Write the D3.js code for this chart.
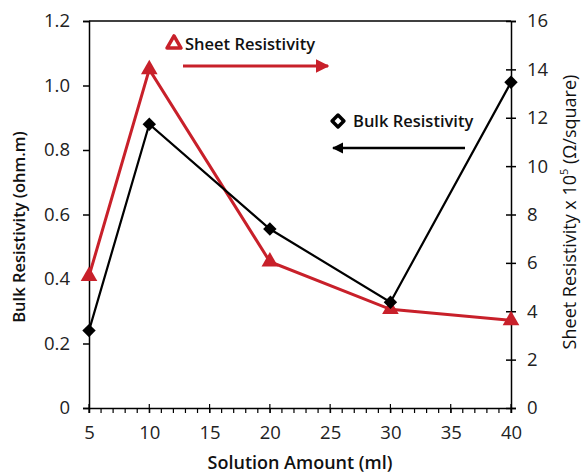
<!DOCTYPE html>
<html><head><meta charset="utf-8">
<script src="https://cdn.jsdelivr.net/npm/d3@7"></script>
<style>body{margin:0;background:#fff}svg{display:block}</style>
</head><body>
<script>
const solution = [5, 10, 20, 30, 40];
const bulkResistivity = [0.24, 0.88, 0.555, 0.328, 1.01];
const sheetResistivity = [5.45, 14.0, 6.05, 4.08, 3.62];
const xTicks = [5, 10, 15, 20, 25, 30, 35, 40];
const leftTicks = [0, 0.2, 0.4, 0.6, 0.8, 1.0, 1.2];
const rightTicks = [0, 2, 4, 6, 8, 10, 12, 14, 16];

const W = 583, H = 476;
const m = {l: 89, r: 72, t: 21, b: 68};
const svg = d3.select("body").append("svg").attr("width", W).attr("height", H);
const x = d3.scaleLinear().domain([5, 40]).range([m.l, W - m.r]);
const yL = d3.scaleLinear().domain([0, 1.2]).range([H - m.b, m.t]);
const yR = d3.scaleLinear().domain([0, 16]).range([H - m.b, m.t]);
const RED = "#c8202a";
const tickFont = "'Open Sans', 'Noto Sans', sans-serif";
const TF = 18.5;

// top border
svg.append("line").attr("x1", x(5)).attr("x2", x(40)).attr("y1", m.t).attr("y2", m.t)
  .attr("stroke", "#000").attr("stroke-width", 1.5);

// bottom axis minor ticks
const minor = d3.range(5, 41, 1);
svg.append("g").selectAll("line").data(minor).join("line")
  .attr("x1", d => x(d)).attr("x2", d => x(d))
  .attr("y1", d => d % 5 === 0 ? yL(0) - 4 : yL(0))
  .attr("y2", yL(0) + 5)
  .attr("stroke", "#000").attr("stroke-width", 1.2);

const xAxis = svg.append("g").attr("transform", `translate(0,${yL(0)})`)
  .call(d3.axisBottom(x).tickValues(xTicks).tickSize(5).tickPadding(13).tickFormat(d3.format("d")));
xAxis.select(".domain").attr("stroke-width", 1.5);
xAxis.selectAll("text").attr("font-size", TF).attr("font-family", tickFont).attr("fill", "#222");

const lAxis = svg.append("g").attr("transform", `translate(${m.l},0)`)
  .call(d3.axisLeft(yL).tickValues(leftTicks).tickSize(6).tickPadding(13)
    .tickFormat(d => d === 0 ? "0" : d3.format(".1f")(d)));
lAxis.select(".domain").attr("stroke-width", 1.5);
lAxis.selectAll(".tick line").attr("stroke-width", 1.5);
lAxis.selectAll("text").attr("font-size", TF).attr("font-family", tickFont).attr("fill", "#222");

const rAxis = svg.append("g").attr("transform", `translate(${W - m.r},0)`)
  .call(d3.axisRight(yR).tickValues(rightTicks).tickSize(5).tickPadding(11).tickFormat(d3.format("d")));
rAxis.select(".domain").attr("stroke-width", 1.5);
rAxis.selectAll(".tick line").attr("x1", -5).attr("stroke-width", 1.5);
rAxis.selectAll("text").attr("font-size", TF).attr("font-family", tickFont).attr("fill", "#222");

// lines
const sheetData = solution.map((s, i) => [s, sheetResistivity[i]]);
const bulkData = solution.map((s, i) => [s, bulkResistivity[i]]);
svg.append("path").datum(sheetData)
  .attr("d", d3.line().x(d => x(d[0])).y(d => yR(d[1])))
  .attr("fill", "none").attr("stroke", RED).attr("stroke-width", 3);
svg.append("path").datum(bulkData)
  .attr("d", d3.line().x(d => x(d[0])).y(d => yL(d[1])))
  .attr("fill", "none").attr("stroke", "#000").attr("stroke-width", 2.2);

const tri = d3.symbol().type(d3.symbolTriangle).size(120);
const sq = d3.symbol().type(d3.symbolSquare).size(90);
svg.append("g").selectAll("path").data(sheetData).join("path")
  .attr("transform", d => `translate(${x(d[0])},${yR(d[1])})`)
  .attr("d", tri).attr("fill", RED);
svg.append("g").selectAll("path").data(bulkData).join("path")
  .attr("transform", d => `translate(${x(d[0])},${yL(d[1])}) rotate(45)`)
  .attr("d", sq).attr("fill", "#000");

// arrow markers
const defs = svg.append("defs");
[["arrRed", RED], ["arrBlack", "#000"]].forEach(([id, c]) => {
  defs.append("marker").attr("id", id).attr("viewBox", "0 0 10 10").attr("refX", 9).attr("refY", 5)
    .attr("markerWidth", 4.5).attr("markerHeight", 4.5).attr("markerUnits", "strokeWidth").attr("orient", "auto")
    .append("path").attr("d", "M0,0 L10,5 L0,10 Z").attr("fill", c);
});

// legend: sheet
svg.append("path").attr("transform", "translate(174,44)")
  .attr("d", d3.symbol().type(d3.symbolTriangle).size(85)).attr("fill", "#fff")
  .attr("stroke", RED).attr("stroke-width", 3.5).attr("stroke-linejoin", "round");
svg.append("text").attr("x", 185).attr("y", 50).text("Sheet Resistivity")
  .attr("font-family", "'Open Sans', sans-serif").attr("font-weight", 600).attr("font-size", 16.5).attr("fill", "#111");
svg.append("line").attr("x1", 183).attr("x2", 328).attr("y1", 66).attr("y2", 66)
  .attr("stroke", RED).attr("stroke-width", 3).attr("marker-end", "url(#arrRed)");

// legend: bulk
svg.append("path").attr("transform", "translate(338,121) rotate(45)")
  .attr("d", d3.symbol().type(d3.symbolSquare).size(70)).attr("fill", "#fff")
  .attr("stroke", "#000").attr("stroke-width", 3.5).attr("stroke-linejoin", "round");
svg.append("text").attr("x", 353).attr("y", 127).text("Bulk Resistivity")
  .attr("font-family", "'Open Sans', sans-serif").attr("font-weight", 600).attr("font-size", 16.5).attr("fill", "#111");
svg.append("line").attr("x1", 465).attr("x2", 333).attr("y1", 148).attr("y2", 148)
  .attr("stroke", "#000").attr("stroke-width", 2.5).attr("marker-end", "url(#arrBlack)");

// axis titles
svg.append("text").attr("transform", `translate(25,227) rotate(-90)`).attr("text-anchor", "middle")
  .text("Bulk Resistivity (ohm.m)")
  .attr("font-family", "'Open Sans', sans-serif").attr("font-weight", 600).attr("font-size", 16.5).attr("fill", "#111");
svg.append("text").attr("x", 300).attr("y", 469).attr("text-anchor", "middle")
  .text("Solution Amount (ml)")
  .attr("font-family", "'Open Sans', sans-serif").attr("font-weight", 600).attr("font-size", 18).attr("fill", "#111");
const rt = svg.append("text").attr("transform", `translate(576,212) rotate(-90)`).attr("text-anchor", "middle")
  .attr("font-family", "'Open Sans', sans-serif").attr("font-size", 18).attr("fill", "#111");
rt.append("tspan").text("Sheet Resistivity x 10");
rt.append("tspan").text("5").attr("font-size", 11).attr("dy", -8);
rt.append("tspan").text(" (Ω/square)").attr("dy", 8);
</script>
</body></html>
